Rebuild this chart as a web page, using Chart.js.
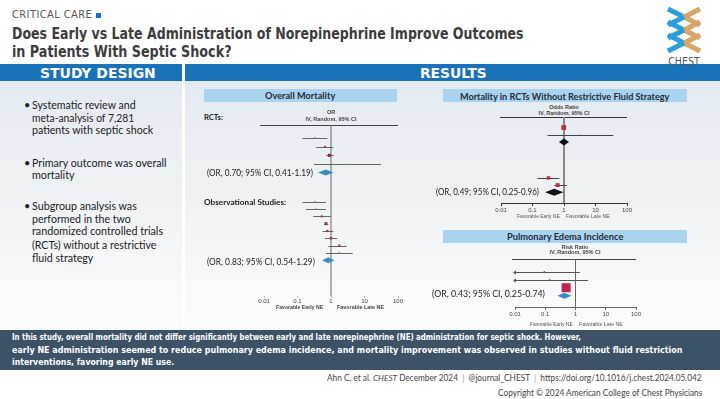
<!DOCTYPE html>
<html lang="en">
<head>
<meta charset="UTF-8">
<title>Early vs Late Norepinephrine in Septic Shock</title>
<script src="https://cdn.jsdelivr.net/npm/chart.js"></script>
<style>
  body { margin: 0; width: 720px; height: 399px; position: relative; overflow: hidden; background: #fff; font-family: Lato, "Open Sans", sans-serif; }
  .t { position: absolute; white-space: nowrap; transform-origin: left center; }
  .c { position: absolute; white-space: nowrap; transform: translateX(-50%); }
  .box { position: absolute; }
  canvas { position: absolute; }
  .ttl { font: bold 15px "DejaVu Sans Condensed", sans-serif; color: #3c3c3c; }
  .cc { font: 10px "DejaVu Sans Condensed", sans-serif; color: #555; letter-spacing: .4px; }
  .hdr { font: bold 13.5px "DejaVu Sans Condensed", sans-serif; color: #fff; }
  .pt { font: bold 10px Lato, sans-serif; color: #1f2d3d; }
  .bul { font: 11px Lato, sans-serif; color: #222; }
  .sum { font: bold 9px "DejaVu Sans Condensed", sans-serif; color: #fff; }
  .ft { font: 8.5px Lato, sans-serif; color: #444; }
  .ann { font: 10px Lato, sans-serif; color: #222; }
  .sec { font: bold 8px Lato, sans-serif; color: #222; }
  .tiny { font: bold 5.5px "Liberation Sans", sans-serif; color: #444; }
  .fav { font: bold 5.5px "Liberation Sans", sans-serif; color: #444; }
  .fav2 { font: 5.5px "Liberation Sans", sans-serif; color: #555; }
</style>
</head>
<body>

<div class="box" style="left:0;top:64px;width:182px;height:17px;background:#1a72b8"></div>
<div class="box" style="left:185px;top:64px;width:535px;height:17px;background:#1a72b8"></div>
<div class="box" style="left:0;top:81px;width:182px;height:249px;background:linear-gradient(#e3eaf1,#fbfcfd)"></div>
<div class="box" style="left:185px;top:81px;width:535px;height:249px;background:linear-gradient(#e3eaf1,#fbfcfd)"></div>
<div class="box" style="left:204px;top:89px;width:193px;height:13px;background:#a9d3ee"></div>
<div class="box" style="left:443px;top:89px;width:244px;height:13px;background:#a9d3ee"></div>
<div class="box" style="left:443px;top:230px;width:244px;height:13px;background:#a9d3ee"></div>
<div class="box" style="left:0;top:330px;width:720px;height:40px;background:#3d5267"></div>
<div class="box" style="left:96px;top:13px;width:5px;height:5px;background:#1a72b8"></div>

<svg class="box" style="left:664px;top:5px" width="40" height="68" viewBox="0 0 40 68">
  <g stroke-width="5" fill="none" stroke-linecap="butt">
    <path d="M4 4 L20 12 M4 17 L20 25 M4 30 L20 38" stroke="#2b9fd9"/>
    <path d="M36 4 L20 12 M36 17 L20 25 M36 30 L20 38" stroke="#d8a56a"/>
    <path d="M20 12 L36 20 M20 25 L36 33 M20 38 L36 46" stroke="#d8a56a"/>
    <path d="M20 12 L4 20 M20 25 L4 33 M20 38 L4 46" stroke="#2b9fd9"/>
  </g>
  <text x="20" y="60" text-anchor="middle" font-family="DejaVu Sans Condensed" font-size="10.5" fill="#555">CHEST</text>
</svg>

<canvas id="om" width="164" height="185" style="left:249px;top:125px"></canvas>
<canvas id="nr" width="156" height="100" style="left:486px;top:117px"></canvas>
<canvas id="pe" width="151" height="62" style="left:500px;top:259px"></canvas>

<script>
// ---- data ----
const axisTicks = [0.01, 0.1, 1, 10, 100];
const axisLabels = ['0.01', '0.1', '1', '10', '100'];

// Overall mortality, RCTs then observational studies (row = position down the plot)
const omRows = [0, 1.2, 2.35, 3.55, 8.7, 9.7, 10.7, 11.7, 12.7, 13.7, 14.7, 15.7];
const omOR = [0.33, 0.66, 0.9, 2.95, 0.33, 0.355, 0.53, 0.71, 0.775, 1.0, 1.77, 1.77];
const omLo = [0.14, 0.36, 0.72, 0.31, 0.142, 0.18, 0.295, 0.62, 0.56, 0.66, 0.83, 0.71];
const omHi = [0.78, 1.17, 1.22, 30.8, 0.71, 0.71, 0.98, 0.83, 1.17, 1.54, 2.95, 4.46];
const omSize = [1.2, 1.5, 2.2, 1, 1.1, 1.1, 1.5, 2.2, 1.6, 1.8, 1.6, 1.2];
const omColor = ['#777', '#a33a55', '#8e2440', '#999', '#888', '#888', '#a33a55', '#a33a55',
                 '#a33a55', '#a33a55', '#a33a55', '#888'];
const omPooledRows = [4.7, 16.7];
const omPooledOR = [0.70, 0.83];
const omPooledLo = [0.41, 0.54];
const omPooledHi = [1.19, 1.29];

// Mortality in RCTs without restrictive fluid strategy
const nrRows = [1, 2, 8, 9];
const nrOR = [0.98, 3.3, 0.32, 0.63];
const nrLo = [0.9, 0.30, 0.143, 0.49];
const nrHi = [1.07, 37, 0.72, 1.23];
const nrSize = [3.4, 0.8, 2.4, 2.8];
const nrColor = ['#b8323f', '#888', '#b8323f', '#b8323f'];
const nrPooledRows = [3, 10];
const nrPooledOR = [0.99, 0.49];
const nrPooledLo = [0.69, 0.25];
const nrPooledHi = [1.45, 0.96];

// Pulmonary edema incidence
const peRows = [1, 2, 3];
const peRR = [0.093, 0.14, 0.49];
const peLo = [0.001, 0.001, 0.36];
const peHi = [1.4, 2.6, 0.66];
const peSize = [1, 1, 6.4];
const peColor = ['#666', '#666', '#c2254c'];
const pePooledRows = [4];
const pePooledRR = [0.43];
const pePooledLo = [0.25];
const pePooledHi = [0.74];

// ---- text ----
function label(text, x, yc, size, cls, w) {
  const el = document.createElement('div');
  el.className = 't ' + cls;
  el.textContent = text;
  el.style.left = x + 'px';
  el.style.top = (yc - size * 0.62) + 'px';
  el.style.lineHeight = (size * 1.2) + 'px';
  document.body.appendChild(el);
  if (w) el.style.transform = 'scaleX(' + (w / el.offsetWidth) + ')';
  return el;
}
function centered(text, cx, yc, size, cls) {
  const el = document.createElement('div');
  el.className = 'c ' + cls;
  el.textContent = text;
  el.style.left = cx + 'px';
  el.style.top = (yc - size * 0.62) + 'px';
  el.style.lineHeight = (size * 1.2) + 'px';
  document.body.appendChild(el);
}

label('CRITICAL CARE', 12, 15, 10, 'cc', 80);
label('Does Early vs Late Administration of Norepinephrine Improve Outcomes', 12, 34, 15, 'ttl', 512);
label('in Patients With Septic Shock?', 12, 52, 15, 'ttl', 220);
label('STUDY DESIGN', 40, 73, 13.5, 'hdr', 116);
label('RESULTS', 420, 73, 13.5, 'hdr', 67);

const bullets = [
  ['Systematic review and', 105, 104], ['meta-analysis of 7,281', 117.5, 102],
  ['patients with septic shock', 130, 121],
  ['Primary outcome was overall', 162.5, 135], ['mortality', 175, 43],
  ['Subgroup analysis was', 205.5, 105], ['performed in the two', 218.5, 99],
  ['randomized controlled trials', 231, 131], ['(RCTs) without a restrictive', 244.5, 124],
  ['fluid strategy', 257.5, 61]
];
bullets.forEach(([s, y, w]) => label(s, 32, y, 11, 'bul', w));
[105, 162.5, 205.5].forEach(y => label('\u2022', 24, y, 11, 'bul'));

label('Overall Mortality', 265, 95.5, 10, 'pt', 70);
label('Mortality in RCTs Without Restrictive Fluid Strategy', 460, 96, 10, 'pt', 209);
label('Pulmonary Edema Incidence', 507, 236.5, 10, 'pt', 116);

label('RCTs:', 204, 118, 8, 'sec', 19);
label('Observational Studies:', 204, 203, 8, 'sec', 82);
label('(OR, 0.70; 95% CI, 0.41-1.19)', 207, 172.5, 10, 'ann', 106);
label('(OR, 0.83; 95% CI, 0.54-1.29)', 207, 261, 10, 'ann', 108);
label('(OR, 0.49; 95% CI, 0.25-0.96)', 436, 191, 10, 'ann', 103);
label('(OR, 0.43; 95% CI, 0.25-0.74)', 432, 293, 10, 'ann', 113);

centered('OR', 331, 112, 5.5, 'tiny');
centered('IV, Random, 95% CI', 331, 119.5, 5.5, 'tiny');
centered('Odds Ratio', 564, 107.5, 5.5, 'tiny');
centered('IV, Random, 95% CI', 564, 113.3, 5.5, 'tiny');
centered('Risk Ratio', 575, 247.3, 5.5, 'tiny');
centered('IV, Random, 95% CI', 575, 252.8, 5.5, 'tiny');

label('Favorable Early NE', 276, 307.5, 5.5, 'fav', 47);
label('Favorable Late NE', 337, 307.5, 5.5, 'fav', 47);
label('Favorable Early NE', 517, 216, 5.5, 'fav2', 43);
label('Favorable Late NE', 566, 216, 5.5, 'fav2', 44);
label('Favorable Early NE', 530, 324.5, 5.5, 'fav2', 43);
label('Favorable Late NE', 579, 324.5, 5.5, 'fav2', 44);

label('In this study, overall  mortality did not differ significantly between early and late norepinephrine (NE) administration for septic shock. However,', 12, 338, 9, 'sum', 569);
label('early NE administration seemed to reduce pulmonary edema incidence, and mortality improvement was observed in studies without fluid restriction', 12, 350.5, 9, 'sum', 671);
label('interventions, favoring early NE use.', 12, 363, 9, 'sum', 162);

const ft = label('', 327, 378.5, 8.5, 'ft');
ft.innerHTML = 'Ahn C, et al. <i>CHEST</i> December 2024 &nbsp;<span style="color:#999">|</span>&nbsp; @journal_CHEST &nbsp;<span style="color:#999">|</span>&nbsp; https://doi.org/10.1016/j.chest.2024.05.042';
ft.style.transform = 'scaleX(' + (375 / ft.offsetWidth) + ')';
label('Copyright \u00a9 2024 American College of Chest Physicians', 498, 393, 8.5, 'ft', 204);

// ---- forest plots ----
function forest(id, o) {
  const plugin = {
    id: 'forest_' + id,
    beforeDatasetsDraw(chart) {
      const { ctx, chartArea: a, scales: { x, y } } = chart;
      ctx.save();
      ctx.lineWidth = 1;
      ctx.strokeStyle = o.ruleColor;
      ctx.beginPath();
      ctx.moveTo(a.left - o.ruleExtend, a.top + 0.5);
      ctx.lineTo(a.right, a.top + 0.5);
      ctx.stroke();
      const x1 = x.getPixelForValue(1);
      ctx.strokeStyle = o.refColor;
      ctx.lineWidth = o.refWidth;
      ctx.beginPath();
      ctx.moveTo(x1, a.top);
      ctx.lineTo(x1, a.bottom);
      ctx.stroke();
      ctx.lineWidth = 1;
      ctx.strokeStyle = o.ciColor;
      ctx.fillStyle = o.ciColor;
      o.rows.forEach((r, i) => {
        const py = Math.round(y.getPixelForValue(r)) + 0.5;
        const xl = x.getPixelForValue(Math.max(o.lo[i], x.min));
        const xr = x.getPixelForValue(o.hi[i]);
        ctx.beginPath();
        ctx.moveTo(xl, py);
        ctx.lineTo(xr, py);
        ctx.stroke();
        if (o.lo[i] < x.min) {
          ctx.beginPath();
          ctx.moveTo(xl + 1, py - 2);
          ctx.lineTo(xl - 2, py);
          ctx.lineTo(xl + 1, py + 2);
          ctx.closePath();
          ctx.fill();
        }
      });
      ctx.restore();
    },
    afterDatasetsDraw(chart) {
      const { ctx, scales: { x, y } } = chart;
      ctx.save();
      ctx.fillStyle = o.diamondColor;
      o.pRows.forEach((r, i) => {
        const py = y.getPixelForValue(r);
        const xe = x.getPixelForValue(o.pEst[i]);
        ctx.beginPath();
        ctx.moveTo(x.getPixelForValue(o.pLo[i]), py);
        ctx.lineTo(xe, py - o.diamondHalf);
        ctx.lineTo(x.getPixelForValue(o.pHi[i]), py);
        ctx.lineTo(xe, py + o.diamondHalf);
        ctx.closePath();
        ctx.fill();
      });
      ctx.restore();
    }
  };

  return new Chart(document.getElementById(id), {
    type: 'scatter',
    data: {
      datasets: [{
        data: o.rows.map((r, i) => ({ x: o.est[i], y: r })),
        pointStyle: 'rect',
        pointRadius: o.sizes,
        pointBackgroundColor: o.colors,
        pointBorderWidth: 0,
        clip: false
      }]
    },
    options: {
      responsive: false,
      animation: false,
      devicePixelRatio: 1,
      layout: { autoPadding: false, padding: { left: 15, right: 15, top: 0, bottom: 0 } },
      plugins: { legend: { display: false }, tooltip: { enabled: false } },
      scales: {
        x: {
          type: 'logarithmic',
          min: 0.01,
          max: 100,
          afterBuildTicks: s => { s.ticks = axisTicks.map(v => ({ value: v })); },
          afterFit: s => { s.height = 14; },
          ticks: {
            autoSkip: false,
            maxRotation: 0,
            padding: o.tickPad,
            color: '#444',
            font: { size: 6, family: 'Liberation Sans' },
            callback: (v, i) => axisLabels[i]
          },
          grid: { drawOnChartArea: false, tickLength: o.tickLen, color: o.axisColor },
          border: { display: o.showBorder, color: o.axisColor }
        },
        y: { type: 'linear', reverse: true, min: o.yMin, max: o.yMax, display: false }
      }
    },
    plugins: [plugin]
  });
}

forest('om', {
  rows: omRows, est: omOR, lo: omLo, hi: omHi, sizes: omSize, colors: omColor,
  pRows: omPooledRows, pEst: omPooledOR, pLo: omPooledLo, pHi: omPooledHi,
  yMin: -1.8, yMax: 21.6, diamondColor: '#3a8cc3', diamondHalf: 3,
  ruleColor: '#444', ruleExtend: 4, refColor: '#666', refWidth: 1, ciColor: '#666',
  axisColor: '#bbb', tickLen: 2, tickPad: 0, showBorder: false
});

forest('nr', {
  rows: nrRows, est: nrOR, lo: nrLo, hi: nrHi, sizes: nrSize, colors: nrColor,
  pRows: nrPooledRows, pEst: nrPooledOR, pLo: nrPooledLo, pHi: nrPooledHi,
  yMin: -0.46, yMax: 11.49, diamondColor: '#111', diamondHalf: 3.5,
  ruleColor: '#333', ruleExtend: 1, refColor: '#888', refWidth: 2, ciColor: '#444',
  axisColor: '#333', tickLen: 3, tickPad: 1, showBorder: true
});

forest('pe', {
  rows: peRows, est: peRR, lo: peLo, hi: peHi, sizes: peSize, colors: peColor,
  pRows: pePooledRows, pEst: pePooledRR, pLo: pePooledLo, pHi: pePooledHi,
  yMin: -0.59, yMax: 5.41, diamondColor: '#3b8cc6', diamondHalf: 3,
  ruleColor: '#444', ruleExtend: 3, refColor: '#666', refWidth: 1, ciColor: '#555',
  axisColor: '#666', tickLen: 3, tickPad: 1, showBorder: true
});
</script>
</body>
</html>
